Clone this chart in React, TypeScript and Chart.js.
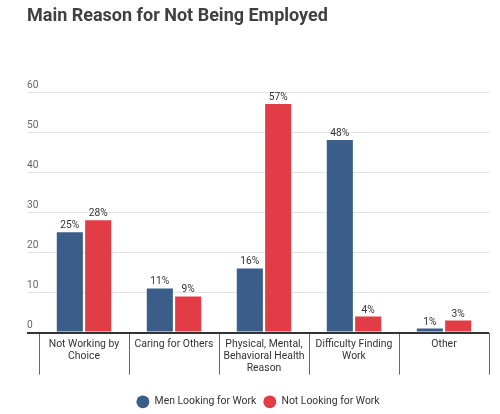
import React, { useEffect, useRef } from "react";
import { Chart, registerables } from "chart.js";

Chart.register(...registerables);

const categories: (string | string[])[] = [
  ["Not Working by", "Choice"],
  "Caring for Others",
  ["Physical, Mental,", "Behavioral Health", "Reason"],
  ["Difficulty Finding", "Work"],
  "Other",
];
const menLooking: number[] = [25, 11, 16, 48, 1];
const notLooking: number[] = [28, 9, 57, 4, 3];
const seriesNames: string[] = ["Men Looking for Work", "Not Looking for Work"];
const yTicks: number[] = [0, 10, 20, 30, 40, 50, 60];

const BLUE = "#3b5d89";
const RED = "#e23d47";
const FONT = "Roboto";

const valueLabels = {
  id: "valueLabels",
  afterDatasetsDraw(chart: any) {
    const ctx = chart.ctx;
    ctx.save();
    ctx.font = `10.2px ${FONT}`;
    ctx.fillStyle = "#333";
    ctx.textAlign = "center";
    ctx.textBaseline = "bottom";
    chart.data.datasets.forEach((ds: any, i: number) => {
      const meta = chart.getDatasetMeta(i);
      meta.data.forEach((el: any, j: number) => {
        ctx.fillText(`${ds.data[j]}%`, el.x, el.y - 1.5);
      });
    });
    ctx.restore();
  },
};

export default function App() {
  const ref = useRef<HTMLCanvasElement>(null);
  useEffect(() => {
    if (!ref.current) return;
    const chart = new Chart(ref.current, {
      type: "bar",
      data: {
        labels: categories,
        datasets: [
          { label: seriesNames[0], data: menLooking, backgroundColor: BLUE, borderWidth: 0 },
          { label: seriesNames[1], data: notLooking, backgroundColor: RED, borderWidth: 0 },
        ],
      },
      options: {
        animation: false,
        responsive: true,
        maintainAspectRatio: false,
        layout: { padding: { left: 27, right: 11, top: 0, bottom: -3 } },
        datasets: { bar: { categoryPercentage: 0.63, barPercentage: 0.92 } },
        scales: {
          x: {
            grid: {
              drawOnChartArea: false,
              drawTicks: true,
              tickLength: 42,
              color: "#666",
              tickColor: "#666",
              offset: true,
            },
            border: { display: false },
            ticks: {
              font: { family: FONT, size: 10.4, lineHeight: 1.15 },
              color: "#333",
              padding: -36,
              maxRotation: 0,
              autoSkip: false,
            },
            afterFit(scale: any) {
              scale.height = 57;
            },
          },
          y: {
            min: 0,
            max: 60,
            afterBuildTicks(scale: any) {
              scale.ticks = yTicks.map((v) => ({ value: v }));
            },
            grid: {
              color: (c: any) => (c.tick && c.tick.value === 0 ? "#333" : "#e3e3e3"),
              tickColor: (c: any) => (c.tick && c.tick.value === 0 ? "#333" : "#e3e3e3"),
              lineWidth: (c: any) => (c.tick && c.tick.value === 0 ? 2 : 1),
              tickLength: 12,
            },
            border: { display: false },
            ticks: {
              font: { family: FONT, size: 10.2 },
              color: "#666",
              crossAlign: "far",
              labelOffset: -7,
              padding: 0,
            },
            afterFit(scale: any) {
              scale.width = 12;
            },
          },
        },
        plugins: {
          title: {
            display: true,
            text: "Main Reason for Not Being Employed",
            align: "start",
            color: "#404040",
            font: { family: FONT, size: 18, weight: "bold", lineHeight: 1 },
            padding: { top: 7, bottom: 67 },
          },
          legend: {
            position: "bottom",
            labels: {
              usePointStyle: true,
              pointStyle: "circle",
              pointStyleWidth: 13,
              boxHeight: 9,
              padding: 7,
              color: "#333",
              font: { family: FONT, size: 10.4 },
            },
          },
          tooltip: { enabled: false },
        },
      } as any,
      plugins: [valueLabels],
    });
    return () => chart.destroy();
  }, []);
  return (
    <div style={{ position: "absolute", left: 0, top: 0, width: 500, height: 414 }}>
      <canvas ref={ref} />
    </div>
  );
}
